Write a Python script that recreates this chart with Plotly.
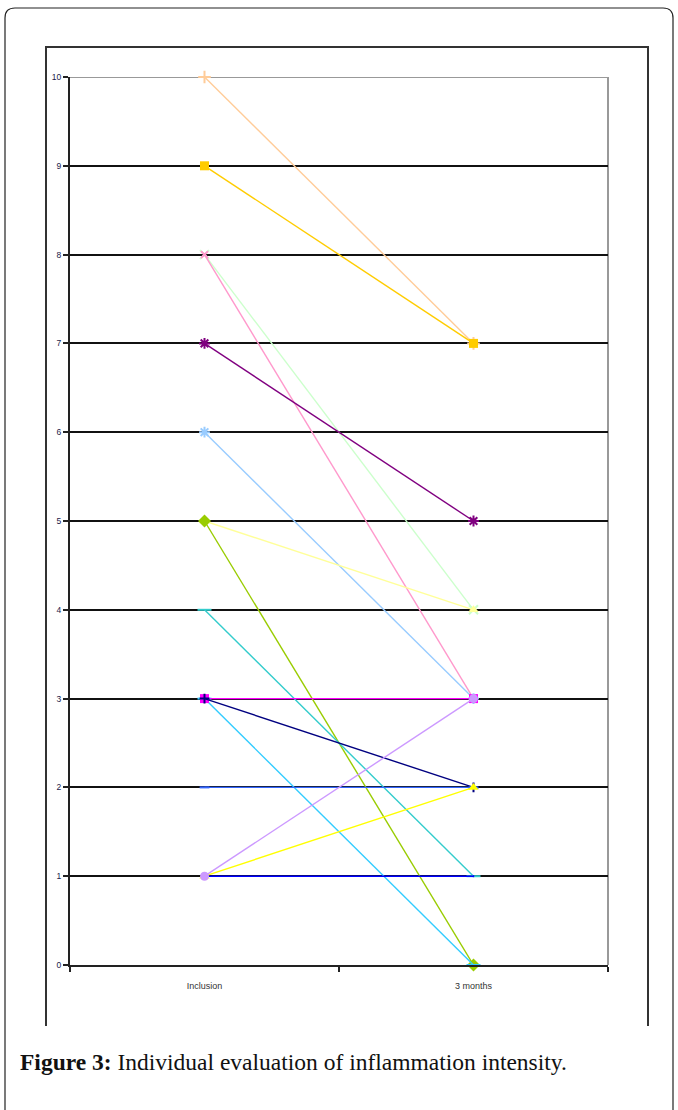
import plotly.graph_objects as go

categories = ["Inclusion", "3 months"]
y_ticks = [0, 1, 2, 3, 4, 5, 6, 7, 8, 9, 10]

# each patient: (inclusion, 3 months)
s_peach = [10, 7]
s_gold = [9, 7]
s_lightgreen = [8, 4]
s_pink = [8, 3]
s_purple = [7, 5]
s_lightblue = [6, 3]
s_lightyellow = [5, 4]
s_olive = [5, 0]
s_teal = [4, 1]
s_magenta = [3, 3]
s_navy = [3, 2]
s_cyan = [3, 0]
s_blue2 = [2, 2]
s_lavender = [1, 3]
s_yellow = [1, 2]
s_blue = [1, 1]

series = [
    (s_peach, "#FFCC99", "cross-thin-open", 9),
    (s_gold, "#FFCC00", "square", 9),
    (s_lightgreen, "#CCFFCC", "x-thin-open", 9),
    (s_pink, "#FF99CC", "x-thin-open", 7),
    (s_lightblue, "#99CCFF", "asterisk-open", 9),
    (s_purple, "#800080", "asterisk-open", 9),
    (s_lightyellow, "#FFFF99", "triangle-up", 9),
    (s_olive, "#99CC00", "diamond", 10),
    (s_teal, "#33CCCC", "line-ew-open", 10),
    (s_cyan, "#33CCFF", "line-ew-open", 10),
    (s_magenta, "#FF00FF", "square", 9),
    (s_navy, "#000080", "cross-thin-open", 7),
    (s_blue2, "#3366FF", "line-ew-open", 7),
    (s_blue, "#0000FF", "line-ew-open", 1),
    (s_yellow, "#FFFF00", "triangle-up", 9),
    (s_lavender, "#CC99FF", "circle", 9),
]

fig = go.Figure()
for vals, col, sym, sz in series:
    open_sym = sym.endswith("open") or "thin" in sym
    fig.add_trace(go.Scatter(
        x=categories, y=vals, mode="lines+markers",
        line=dict(color=col, width=1.4),
        marker=dict(symbol=sym, size=sz, color=col,
                    line=dict(color=col, width=2 if open_sym else 0)),
        showlegend=False, cliponaxis=False,
    ))

W, H = 678, 1110
L, T = 70, 77
R = W - 608
B = H - 965
pw, ph = W - L - R, H - T - B

def px(x):
    return (x - L) / pw

def py(y):
    return (H - B - y) / ph

shapes = []
shapes.append(dict(type="line", xref="paper", yref="y", x0=0, x1=1, y0=10, y1=10,
                   line=dict(color="#999999", width=2), layer="below"))
shapes.append(dict(type="line", xref="paper", yref="paper", x0=1, x1=1, y0=0, y1=1,
                   line=dict(color="#999999", width=2), layer="below"))
shapes.append(dict(type="path", xref="paper", yref="paper",
                   path=f"M {px(46)} {py(1026)} L {px(46)} {py(47)} L {px(648)} {py(47)} L {px(648)} {py(1026)}",
                   line=dict(color="#333333", width=2)))
r = 10
shapes.append(dict(type="path", xref="paper", yref="paper",
                   path=(f"M {px(5)} {py(1115)} L {px(5)} {py(8+r)} "
                         f"Q {px(5)} {py(8)} {px(5+r)} {py(8)} "
                         f"L {px(673-r)} {py(8)} Q {px(673)} {py(8)} {px(673)} {py(8+r)} "
                         f"L {px(673)} {py(1115)}"),
                   line=dict(color="#222222", width=1.2)))

fig.update_layout(
    width=W, height=H,
    margin=dict(l=L, r=R, t=T, b=B),
    paper_bgcolor="white", plot_bgcolor="white",
    shapes=shapes,
    xaxis=dict(type="category", range=[-0.5, 1.5], tickson="boundaries",
               ticks="outside", ticklen=5, tickwidth=2, tickcolor="#222222",
               showline=True, linecolor="#222222", linewidth=2,
               showgrid=False, zeroline=False, ticklabelstandoff=11,
               tickfont=dict(family="Liberation Sans", size=9, color="#333333")),
    yaxis=dict(range=[0, 10], tickvals=y_ticks, ticks="outside", ticklen=5,
               tickwidth=2, tickcolor="#222222", showline=True, linecolor="#222222",
               linewidth=2, showgrid=True, gridcolor="#111111", gridwidth=2,
               zeroline=False,
               tickfont=dict(family="Liberation Sans", size=8.5, color="#1a1a4a")),
    annotations=[dict(
        xref="paper", yref="paper", x=px(18), y=py(1062), xanchor="left", yanchor="middle",
        text="<b>Figure 3:</b> Individual evaluation of inflammation intensity.",
        showarrow=False,
        font=dict(family="Liberation Serif", size=23.5, color="#111111"),
    )],
)

fig.write_html("out.html", config={"displayModeBar": False},
               post_script="document.body.style.margin='0';")
